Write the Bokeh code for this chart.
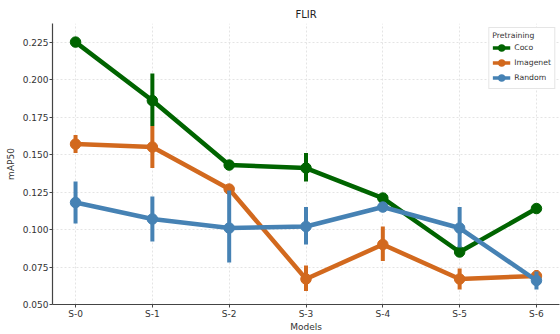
from bokeh.plotting import figure
from bokeh.models import Range1d, FixedTicker, Legend, LegendItem
from bokeh.embed import file_html
from bokeh.resources import INLINE

models = ["S-0", "S-1", "S-2", "S-3", "S-4", "S-5", "S-6"]

coco = [0.225, 0.186, 0.143, 0.141, 0.121, 0.085, 0.114]
coco_lo = [0.222, 0.169, 0.142, 0.132, 0.119, 0.082, 0.111]
coco_hi = [0.228, 0.204, 0.144, 0.151, 0.123, 0.087, 0.117]

imagenet = [0.157, 0.155, 0.127, 0.067, 0.090, 0.067, 0.069]
imagenet_lo = [0.151, 0.141, 0.126, 0.059, 0.079, 0.060, 0.065]
imagenet_hi = [0.163, 0.169, 0.128, 0.076, 0.102, 0.074, 0.073]

rand = [0.118, 0.107, 0.101, 0.102, 0.115, 0.101, 0.066]
rand_lo = [0.104, 0.092, 0.078, 0.090, 0.112, 0.088, 0.060]
rand_hi = [0.132, 0.122, 0.126, 0.115, 0.118, 0.115, 0.072]

y_ticks = [0.050, 0.075, 0.100, 0.125, 0.150, 0.175, 0.200, 0.225]

series = [
    ("Coco", coco, coco_lo, coco_hi, "#006400"),
    ("Imagenet", imagenet, imagenet_lo, imagenet_hi, "#d2691e"),
    ("Random", rand, rand_lo, rand_hi, "#4682b4"),
]

FONT = "DejaVu Sans"
NAN = float("nan")

p = figure(width=560, height=334, output_backend="svg", toolbar_location=None,
           x_range=Range1d(-0.3, 6.3), y_range=Range1d(0.050, 0.2374),
           min_border_left=52, min_border_right=1, min_border_top=23, min_border_bottom=0)

p.title.text = "FLIR"
p.title.align = "center"
p.title.text_font = FONT
p.title.text_font_size = "10px"
p.title.text_font_style = "normal"
p.title.text_color = "#222222"
p.title.standoff = 7

xs = list(range(len(models)))
items = []
for name, vals, lo, hi, col in series:
    p.line(xs, vals, line_color=col, line_width=4.5)
    p.segment(x0=xs, y0=lo, x1=xs, y1=hi, line_color=col, line_width=4)
    p.scatter(xs, vals, size=10.5, fill_color=col, line_color=col)
    # legend proxies (no drawable data)
    l1 = p.line([NAN], [NAN], line_color=col, line_width=3.5)
    l2 = p.scatter([NAN], [NAN], fill_color=col, line_color=col, line_width=1.5)
    items.append(LegendItem(label=name, renderers=[l1, l2]))

legend = Legend(items=items, location="top_right", title="Pretraining")
legend.title_text_font = FONT
legend.title_text_font_size = "7.7px"
legend.title_text_font_style = "normal"
legend.title_text_color = "#333333"
legend.label_text_font = FONT
legend.label_text_font_size = "7.7px"
legend.label_text_color = "#333333"
legend.label_height = 12
legend.glyph_height = 15
legend.glyph_width = 18
legend.spacing = -3
legend.padding = 3
legend.margin = 4
legend.label_standoff = 4
legend.border_line_color = "#cccccc"
legend.title_standoff = 0
p.add_layout(legend)

p.xaxis.ticker = FixedTicker(ticks=xs)
p.xaxis.major_label_overrides = {i: m for i, m in enumerate(models)}
p.yaxis.ticker = FixedTicker(ticks=y_ticks)
p.yaxis.major_label_overrides = {v: f"{v:.3f}" for v in y_ticks}

p.xaxis.axis_label = "Models"
p.yaxis.axis_label = "mAP50"
for ax in (p.xaxis, p.yaxis):
    ax.axis_label_text_font = FONT
    ax.axis_label_text_font_size = "9px"
    ax.axis_label_text_font_style = "normal"
    ax.axis_label_text_color = "#333333"
    ax.major_label_text_font = FONT
    ax.major_label_text_font_size = "9px"
    ax.major_label_text_color = "#333333"
    ax.major_tick_out = 3
    ax.major_tick_in = 0
    ax.minor_tick_line_color = None
    ax.axis_line_color = "#444444"
    ax.axis_line_width = 1.2
    ax.major_tick_line_color = "#444444"
p.xaxis.major_label_standoff = 1
p.xaxis.axis_label_standoff = 0
p.yaxis.major_label_standoff = 1
p.yaxis.axis_label_standoff = 4

p.outline_line_color = None
p.xgrid.ticker = FixedTicker(ticks=xs)
p.ygrid.ticker = FixedTicker(ticks=y_ticks)
p.grid.grid_line_color = "#dddddd"
p.grid.grid_line_dash = "2 2"
p.grid.grid_line_width = 0.8

open("out.html", "w").write(file_html(p, INLINE))
